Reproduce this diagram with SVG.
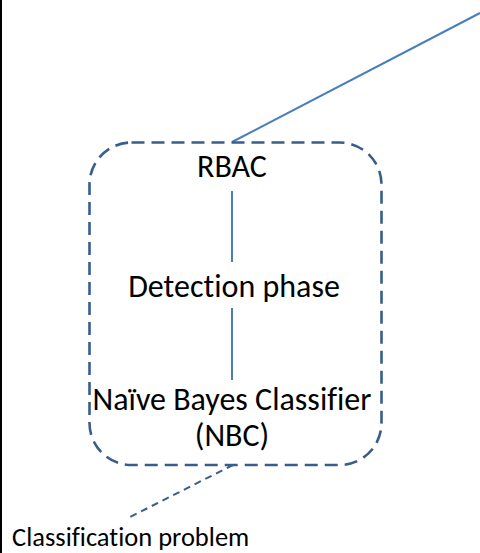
<svg xmlns="http://www.w3.org/2000/svg" width="480" height="553" viewBox="0 0 480 553">
<style>
  .t { font-family: Carlito, Lato, "Open Sans", sans-serif; fill: #000; text-anchor: middle; font-variant-ligatures: none; }
  .big { font-size: 32px; }
  .small { font-size: 26.5px; text-anchor: start; }
  .solid { stroke: #4A7EBB; stroke-width: 2; fill: none; }
  .dash { stroke: #385D8A; fill: none; }
</style>
<rect x="0" y="0" width="480" height="553" fill="#fff"/>
<line x1="1" y1="0" x2="1" y2="553" stroke="#000" stroke-width="2"/>
<g id="connectors">
  <line class="solid" x1="232" y1="142" x2="480" y2="13"/>
  <line class="solid" x1="232" y1="191" x2="232" y2="262"/>
  <line class="solid" x1="232" y1="308" x2="232" y2="380"/>
  <line class="dash" x1="233" y1="465" x2="130" y2="517" stroke-width="2" stroke-dasharray="7,5"/>
</g>
<g id="group-box">
  <rect class="dash" x="89.5" y="142.5" width="292" height="322.5" rx="42" ry="42" stroke-width="2.6" stroke-dasharray="13,7"/>
</g>
<g id="rbac"><text class="t big" x="232" y="177">RBAC</text></g>
<g id="detection"><text class="t big" x="234" y="297">Detection phase</text></g>
<g id="nbc"><text class="t big" x="232" y="410">Naïve Bayes Classifier</text><text class="t big" x="232" y="446">(NBC)</text></g>
<g id="classification"><text class="t small" x="12" y="546">Classification problem</text></g>
</svg>
